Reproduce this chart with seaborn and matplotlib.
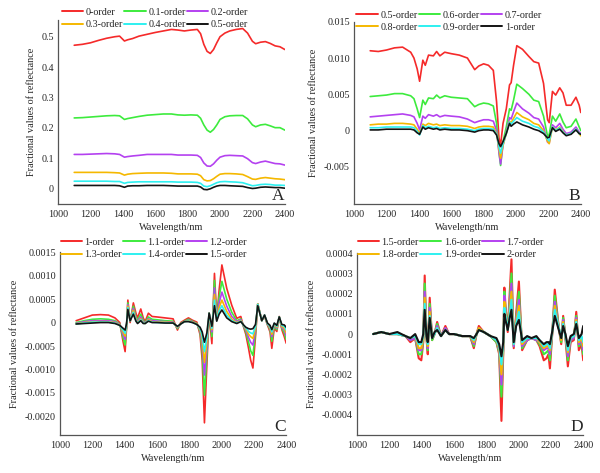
import numpy as np
import pandas as pd
import matplotlib
matplotlib.use("Agg")
import matplotlib.pyplot as plt
import seaborn as sns

# ---------------- data ----------------
colors = ["#F52A2A", "#3DEB3D", "#B441F0", "#F5B800", "#2EF0F0", "#141414"]

labelsA = ["0-order", "0.1-order", "0.2-order", "0.3-order", "0.4-order", "0.5-order"]
labelsB = ["0.5-order", "0.6-order", "0.7-order", "0.8-order", "0.9-order", "1-order"]
labelsC = ["1-order", "1.1-order", "1.2-order", "1.3-order", "1.4-order", "1.5-order"]
labelsD = ["1.5-order", "1.6-order", "1.7-order", "1.8-order", "1.9-order", "2-order"]

xticks = [1000, 1200, 1400, 1600, 1800, 2000, 2200, 2400]

# Panel A
wlA = [1100, 1150, 1200, 1250, 1300, 1350, 1380, 1410, 1430, 1460, 1500, 1550, 1600, 1650, 1700,
       1740, 1780, 1820, 1860, 1880, 1900, 1920, 1940, 1960, 1980, 2000, 2030, 2060, 2100, 2140,
       2170, 2200, 2220, 2250, 2280, 2310, 2340, 2370, 2400]
a00 = [0.472, 0.475, 0.480, 0.488, 0.495, 0.500, 0.502, 0.486, 0.490, 0.494, 0.502, 0.508, 0.514, 0.519, 0.524,
       0.522, 0.519, 0.522, 0.524, 0.510, 0.475, 0.452, 0.445, 0.458, 0.480, 0.500, 0.512, 0.519, 0.524, 0.527,
       0.512, 0.485, 0.477, 0.482, 0.484, 0.478, 0.470, 0.467, 0.458]
a01 = [0.233, 0.234, 0.236, 0.238, 0.240, 0.241, 0.240, 0.228, 0.231, 0.234, 0.238, 0.242, 0.244, 0.246, 0.246,
       0.243, 0.242, 0.243, 0.242, 0.232, 0.210, 0.193, 0.186, 0.195, 0.210, 0.228, 0.237, 0.240, 0.241, 0.241,
       0.230, 0.210, 0.204, 0.210, 0.212, 0.207, 0.201, 0.201, 0.193]
a02 = [0.113, 0.113, 0.114, 0.115, 0.116, 0.115, 0.113, 0.104, 0.106, 0.108, 0.110, 0.113, 0.113, 0.113, 0.113,
       0.111, 0.111, 0.111, 0.110, 0.103, 0.085, 0.075, 0.074, 0.082, 0.094, 0.104, 0.109, 0.110, 0.109, 0.108,
       0.099, 0.086, 0.083, 0.088, 0.091, 0.087, 0.083, 0.082, 0.078]
a03 = [0.054, 0.054, 0.054, 0.054, 0.054, 0.053, 0.052, 0.045, 0.048, 0.050, 0.051, 0.052, 0.052, 0.052, 0.051,
       0.049, 0.049, 0.049, 0.048, 0.043, 0.030, 0.026, 0.027, 0.033, 0.041, 0.048, 0.050, 0.050, 0.049, 0.047,
       0.040, 0.032, 0.031, 0.035, 0.037, 0.035, 0.033, 0.032, 0.030]
a04 = [0.025, 0.025, 0.025, 0.025, 0.025, 0.024, 0.024, 0.018, 0.021, 0.022, 0.023, 0.023, 0.023, 0.023, 0.023,
       0.022, 0.022, 0.022, 0.021, 0.018, 0.009, 0.007, 0.010, 0.015, 0.020, 0.023, 0.024, 0.023, 0.022, 0.020,
       0.015, 0.010, 0.011, 0.014, 0.015, 0.014, 0.012, 0.012, 0.011]
a05 = [0.011, 0.011, 0.011, 0.011, 0.011, 0.011, 0.010, 0.005, 0.009, 0.010, 0.010, 0.011, 0.011, 0.011, 0.010,
       0.009, 0.009, 0.009, 0.009, 0.006, -0.002, -0.003, 0.000, 0.005, 0.009, 0.011, 0.011, 0.010, 0.009, 0.008,
       0.004, 0.001, 0.002, 0.005, 0.006, 0.005, 0.004, 0.004, 0.002]
yticksA = [0, 0.1, 0.2, 0.3, 0.4, 0.5]
ylabA = ["0", "0.1", "0.2", "0.3", "0.4", "0.5"]

# Panel B
wlB = [1100, 1150, 1200, 1250, 1300, 1350, 1370, 1390, 1405, 1425, 1440, 1460, 1490, 1510, 1530,
       1560, 1600, 1650, 1700, 1745, 1770, 1800, 1830, 1860, 1880, 1895, 1905, 1920, 1940, 1960,
       1970, 1985, 2005, 2040, 2080, 2110, 2140, 2170, 2195, 2205, 2225, 2245, 2270, 2290, 2310,
       2340, 2370, 2390, 2400]
b05 = [0.0110, 0.0109, 0.0111, 0.0114, 0.0115, 0.0108, 0.0100, 0.0085, 0.0068, 0.0097, 0.0090, 0.0104, 0.0103, 0.0109, 0.0103,
       0.0108, 0.0106, 0.0104, 0.0100, 0.0084, 0.0089, 0.0092, 0.0090, 0.0083, 0.0040, -0.0010, -0.0020, 0.0010, 0.0030, 0.0063,
       0.0066, 0.0090, 0.0117, 0.0112, 0.0102, 0.0095, 0.0093, 0.0065, 0.0015, 0.0011, 0.0054, 0.0049, 0.0059, 0.0052, 0.0035,
       0.0035, 0.0046, 0.0035, 0.0025]
b06 = [0.0047, 0.0048, 0.0049, 0.0051, 0.0051, 0.0048, 0.0044, 0.0030, 0.0018, 0.0042, 0.0036, 0.0045, 0.0044, 0.0049, 0.0045,
       0.0048, 0.0046, 0.0045, 0.0044, 0.0033, 0.0036, 0.0038, 0.0037, 0.0034, 0.0010, -0.0030, -0.0048, -0.0015, 0.0005, 0.0030,
       0.0028, 0.0042, 0.0064, 0.0058, 0.0050, 0.0042, 0.0040, 0.0020, -0.0008, -0.0005, 0.0020, 0.0013, 0.0023, 0.0012, 0.0004,
       0.0006, 0.0016, 0.0005, 0.0000]
b07 = [0.0019, 0.0020, 0.0021, 0.0022, 0.0023, 0.0021, 0.0019, 0.0010, 0.0001, 0.0020, 0.0017, 0.0022, 0.0020, 0.0022, 0.0019,
       0.0021, 0.0020, 0.0019, 0.0016, 0.0011, 0.0013, 0.0015, 0.0015, 0.0013, 0.0000, -0.0030, -0.0046, -0.0020, -0.0002, 0.0018,
       0.0016, 0.0026, 0.0038, 0.0030, 0.0024, 0.0018, 0.0016, 0.0005, -0.0016, -0.0017, 0.0008, 0.0004, 0.0010, 0.0002, -0.0004,
       -0.0002, 0.0005, -0.0002, -0.0004]
b08 = [0.0008, 0.0009, 0.0009, 0.0010, 0.0010, 0.0009, 0.0008, 0.0002, -0.0004, 0.0009, 0.0007, 0.0010, 0.0008, 0.0009, 0.0007,
       0.0008, 0.0007, 0.0007, 0.0006, 0.0003, 0.0005, 0.0006, 0.0006, 0.0005, -0.0004, -0.0025, -0.0038, -0.0020, -0.0004, 0.0013,
       0.0011, 0.0017, 0.0025, 0.0019, 0.0015, 0.0010, 0.0008, 0.0000, -0.0015, -0.0018, 0.0005, 0.0001, 0.0005, -0.0001, -0.0006,
       -0.0004, 0.0002, -0.0004, -0.0007]
b09 = [0.0004, 0.0004, 0.0005, 0.0005, 0.0005, 0.0005, 0.0004, -0.0001, -0.0006, 0.0007, 0.0004, 0.0006, 0.0004, 0.0005, 0.0003,
       0.0004, 0.0003, 0.0003, 0.0002, 0.0000, 0.0002, 0.0003, 0.0003, 0.0002, -0.0005, -0.0022, -0.0031, -0.0018, -0.0004, 0.0012,
       0.0009, 0.0013, 0.0018, 0.0013, 0.0010, 0.0006, 0.0004, -0.0002, -0.0012, -0.0014, 0.0005, 0.0000, 0.0004, -0.0002, -0.0006,
       -0.0004, 0.0002, -0.0004, -0.0005]
b10 = [0.0001, 0.0001, 0.0002, 0.0002, 0.0002, 0.0002, 0.0001, -0.0003, -0.0005, 0.0005, 0.0002, 0.0004, 0.0002, 0.0003, 0.0001,
       0.0002, 0.0001, 0.0001, 0.0000, -0.0002, 0.0000, 0.0001, 0.0001, 0.0000, -0.0006, -0.0018, -0.0022, -0.0015, -0.0004, 0.0010,
       0.0006, 0.0009, 0.0012, 0.0008, 0.0005, 0.0002, 0.0000, -0.0004, -0.0010, -0.0009, 0.0004, -0.0001, 0.0002, -0.0003, -0.0007,
       -0.0005, 0.0001, -0.0004, -0.0005]
yticksB = [-0.005, 0, 0.005, 0.010, 0.015]
ylabB = ["-0.005", "0", "0.005", "0.010", "0.015"]

# Panel C
wlC = [1100, 1150, 1200, 1250, 1300, 1340, 1370, 1390, 1403, 1412, 1420, 1434, 1454, 1470, 1480,
       1500, 1515, 1527, 1547, 1570, 1600, 1650, 1700, 1727, 1747, 1770, 1795, 1820, 1847, 1867,
       1880, 1894, 1909, 1923, 1940, 1956, 1970, 1985, 2002, 2032, 2063, 2094, 2119, 2136, 2150,
       2167, 2180, 2194, 2210, 2224, 2249, 2266, 2284, 2300, 2311, 2326, 2342, 2357, 2373, 2388, 2400]
c10 = [0.00004, 0.00010, 0.00016, 0.00017, 0.00016, 0.00010, 0.00000, -0.00040, -0.00062, -0.00010,
       0.00048, 0.00000, 0.00042, 0.00020, 0.00010, 0.00029, 0.00010, 0.00002, 0.00020, 0.00013,
       0.00012, 0.00010, 0.00008, -0.00016, 0.00000, 0.00005, 0.00010, 0.00005, 0.00001, -0.00026,
       -0.00080, -0.00214, -0.00090, 0.00020, -0.00045, 0.00105, 0.00009, 0.00070, 0.00123, 0.00073,
       0.00037, 0.00009, 0.00013, -0.00009, -0.00025, -0.00055, -0.00080, -0.00097, -0.00030, 0.00039,
       0.00005, 0.00013, -0.00005, -0.00020, -0.00055, -0.00012, -0.00019, 0.00013, -0.00015, -0.00030,
       -0.00044]
c11 = [0.00000, 0.00004, 0.00007, 0.00008, 0.00007, 0.00004, -0.00003, -0.00032, -0.00048, -0.00010,
       0.00042, 0.00003, 0.00035, 0.00012, 0.00005, 0.00018, 0.00005, 0.00000, 0.00012, 0.00007,
       0.00006, 0.00004, 0.00003, -0.00013, -0.00002, 0.00003, 0.00007, 0.00003, -0.00002, -0.00020,
       -0.00060, -0.00155, -0.00070, 0.00020, -0.00030, 0.00090, 0.00008, 0.00055, 0.00088, 0.00050,
       0.00022, 0.00004, 0.00008, -0.00008, -0.00020, -0.00042, -0.00060, -0.00070, -0.00022, 0.00040,
       0.00004, 0.00015, -0.00004, -0.00015, -0.00040, -0.00008, -0.00015, 0.00012, -0.00012, -0.00022,
       -0.00036]
c12 = [-0.00002, 0.00002, 0.00004, 0.00004, 0.00004, 0.00002, -0.00004, -0.00025, -0.00036, -0.00008,
       0.00038, 0.00004, 0.00030, 0.00008, 0.00002, 0.00012, 0.00002, -0.00001, 0.00008, 0.00004,
       0.00003, 0.00002, 0.00001, -0.00011, -0.00003, 0.00002, 0.00005, 0.00002, -0.00003, -0.00016,
       -0.00045, -0.00112, -0.00055, 0.00020, -0.00020, 0.00074, 0.00006, 0.00042, 0.00065, 0.00035,
       0.00013, 0.00002, 0.00006, -0.00007, -0.00016, -0.00032, -0.00042, -0.00048, -0.00016, 0.00040,
       0.00004, 0.00016, -0.00003, -0.00012, -0.00030, -0.00005, -0.00012, 0.00012, -0.00010, -0.00016,
       -0.00028]
c13 = [-0.00003, 0.00000, 0.00002, 0.00002, 0.00002, 0.00000, -0.00005, -0.00020, -0.00029, -0.00006,
       0.00035, 0.00004, 0.00026, 0.00006, 0.00000, 0.00008, 0.00000, -0.00002, 0.00006, 0.00002,
       0.00001, 0.00001, 0.00000, -0.00010, -0.00003, 0.00002, 0.00004, 0.00001, -0.00003, -0.00014,
       -0.00035, -0.00085, -0.00042, 0.00020, -0.00015, 0.00060, 0.00005, 0.00032, 0.00048, 0.00024,
       0.00007, 0.00000, 0.00004, -0.00006, -0.00013, -0.00025, -0.00030, -0.00034, -0.00012, 0.00040,
       0.00004, 0.00016, -0.00002, -0.00010, -0.00025, -0.00003, -0.00010, 0.00012, -0.00008, -0.00012,
       -0.00022]
c14 = [-0.00003, -0.00001, 0.00001, 0.00001, 0.00001, -0.00001, -0.00006, -0.00016, -0.00023, -0.00004,
       0.00032, 0.00004, 0.00022, 0.00004, -0.00001, 0.00006, -0.00001, -0.00002, 0.00004, 0.00001,
       0.00000, 0.00000, -0.00001, -0.00009, -0.00003, 0.00002, 0.00003, 0.00000, -0.00004, -0.00012,
       -0.00028, -0.00062, -0.00032, 0.00020, -0.00012, 0.00048, 0.00004, 0.00025, 0.00036, 0.00016,
       0.00004, -0.00001, 0.00003, -0.00006, -0.00011, -0.00019, -0.00022, -0.00024, -0.00008, 0.00039,
       0.00004, 0.00016, -0.00002, -0.00008, -0.00020, -0.00002, -0.00008, 0.00012, -0.00006, -0.00008,
       -0.00016]
c15 = [-0.00003, -0.00002, -0.00001, 0.00000, 0.00000, -0.00002, -0.00006, -0.00012, -0.00016, -0.00002,
       0.00028, 0.00004, 0.00018, 0.00003, -0.00002, 0.00004, -0.00002, -0.00002, 0.00003, 0.00000,
       0.00000, -0.00001, -0.00001, -0.00008, -0.00003, 0.00002, 0.00002, 0.00000, -0.00004, -0.00010,
       -0.00020, -0.00042, -0.00022, 0.00020, -0.00008, 0.00036, 0.00003, 0.00018, 0.00027, 0.00010,
       0.00002, -0.00002, 0.00002, -0.00005, -0.00010, -0.00013, -0.00014, -0.00013, -0.00004, 0.00036,
       0.00004, 0.00016, -0.00001, -0.00006, -0.00015, -0.00001, -0.00006, 0.00012, -0.00004, -0.00005,
       -0.00010]
yticksC = [-0.0020, -0.0015, -0.0010, -0.0005, 0, 0.0005, 0.0010, 0.0015]
ylabC = ["-0.0020", "-0.0015", "-0.0010", "-0.0005", "0", "0.0005", "0.0010", "0.0015"]

# Panel D
wlD = [1100, 1150, 1200, 1250, 1300, 1330, 1360, 1382, 1398, 1410, 1419, 1430, 1438, 1450, 1465,
       1480, 1496, 1520, 1547, 1570, 1600, 1650, 1700, 1723, 1740, 1754, 1785, 1826, 1863, 1880,
       1894, 1905, 1912, 1919, 1933, 1945, 1956, 1970, 1985, 2002, 2022, 2053, 2080, 2110, 2130,
       2156, 2173, 2185, 2194, 2210, 2224, 2249, 2264, 2276, 2290, 2305, 2322, 2342, 2357, 2373,
       2390, 2400]
d15 = [0.00000, 0.00001, 0.00000, 0.00000, -0.00001, -0.00004, -0.00002, -0.00012, -0.00013, -0.00004,
       0.00029, -0.00002, -0.00010, 0.00018, -0.00003, 0.00000, 0.00006, -0.00001, 0.00004, 0.00000,
       0.00000, -0.00001, -0.00001, -0.00007, 0.00000, 0.00004, 0.00001, -0.00001, -0.00004, -0.00010,
       -0.00043, -0.00010, 0.00023, 0.00014, 0.00001, 0.00020, 0.00037, -0.00007, 0.00010, 0.00026,
       -0.00008, -0.00003, -0.00002, -0.00003, -0.00006, -0.00013, -0.00012, -0.00010, -0.00017, 0.00002,
       0.00022, 0.00003, -0.00005, 0.00009, -0.00002, -0.00016, -0.00004, -0.00003, 0.00011, -0.00008,
       -0.00005, -0.00013]
d16 = [0.00000, 0.00001, 0.00000, 0.00000, -0.00001, -0.00003, -0.00002, -0.00010, -0.00010, -0.00003,
       0.00025, -0.00002, -0.00008, 0.00015, -0.00003, 0.00000, 0.00005, -0.00001, 0.00003, 0.00000,
       0.00000, -0.00001, -0.00001, -0.00006, 0.00000, 0.00003, 0.00001, -0.00001, -0.00004, -0.00009,
       -0.00031, -0.00008, 0.00021, 0.00012, 0.00002, 0.00016, 0.00030, -0.00006, 0.00008, 0.00021,
       -0.00007, -0.00003, -0.00002, -0.00003, -0.00005, -0.00010, -0.00009, -0.00008, -0.00013, 0.00002,
       0.00019, 0.00003, -0.00004, 0.00008, -0.00001, -0.00013, -0.00003, -0.00002, 0.00009, -0.00006,
       -0.00004, -0.00010]
d17 = [0.00000, 0.00001, 0.00000, 0.00000, -0.00001, -0.00003, -0.00002, -0.00008, -0.00008, -0.00002,
       0.00021, -0.00001, -0.00007, 0.00013, -0.00002, 0.00000, 0.00004, -0.00001, 0.00003, 0.00000,
       0.00000, -0.00001, -0.00001, -0.00005, 0.00000, 0.00003, 0.00001, -0.00001, -0.00003, -0.00008,
       -0.00025, -0.00007, 0.00019, 0.00011, 0.00002, 0.00014, 0.00025, -0.00006, 0.00007, 0.00017,
       -0.00006, -0.00003, -0.00002, -0.00003, -0.00004, -0.00008, -0.00007, -0.00007, -0.00010, 0.00002,
       0.00016, 0.00003, -0.00003, 0.00007, -0.00001, -0.00011, -0.00003, -0.00002, 0.00008, -0.00005,
       -0.00003, -0.00008]
d18 = [0.00000, 0.00001, 0.00000, 0.00000, -0.00001, -0.00002, -0.00001, -0.00007, -0.00007, -0.00002,
       0.00018, -0.00001, -0.00006, 0.00011, -0.00002, 0.00000, 0.00003, -0.00001, 0.00002, 0.00000,
       0.00000, -0.00001, -0.00001, -0.00004, 0.00000, 0.00003, 0.00001, -0.00001, -0.00003, -0.00007,
       -0.00020, -0.00006, 0.00016, 0.00010, 0.00002, 0.00012, 0.00021, -0.00005, 0.00006, 0.00014,
       -0.00005, -0.00002, -0.00002, -0.00002, -0.00004, -0.00007, -0.00006, -0.00006, -0.00008, 0.00002,
       0.00014, 0.00003, -0.00003, 0.00006, -0.00001, -0.00009, -0.00002, -0.00001, 0.00007, -0.00004,
       -0.00002, -0.00006]
d19 = [0.00000, 0.00001, 0.00000, 0.00000, -0.00001, -0.00002, -0.00001, -0.00005, -0.00005, -0.00001,
       0.00015, -0.00001, -0.00005, 0.00009, -0.00002, 0.00000, 0.00003, -0.00001, 0.00002, 0.00000,
       0.00000, -0.00001, -0.00001, -0.00003, 0.00000, 0.00002, 0.00001, -0.00001, -0.00003, -0.00006,
       -0.00015, -0.00005, 0.00013, 0.00009, 0.00002, 0.00010, 0.00017, -0.00005, 0.00005, 0.00011,
       -0.00004, -0.00002, -0.00002, -0.00002, -0.00003, -0.00006, -0.00005, -0.00005, -0.00007, 0.00002,
       0.00012, 0.00003, -0.00002, 0.00005, -0.00001, -0.00008, -0.00002, -0.00001, 0.00006, -0.00003,
       -0.00001, -0.00004]
d20 = [0.00000, 0.00001, 0.00000, 0.00001, -0.00001, -0.00002, 0.00000, -0.00004, -0.00004, 0.00000,
       0.00012, -0.00001, -0.00004, 0.00008, -0.00002, 0.00001, 0.00002, -0.00001, 0.00002, 0.00000,
       0.00000, -0.00001, -0.00001, -0.00002, 0.00000, 0.00002, 0.00001, -0.00001, -0.00002, -0.00005,
       -0.00011, -0.00004, 0.00010, 0.00007, 0.00002, 0.00008, 0.00012, -0.00004, 0.00004, 0.00007,
       -0.00003, -0.00001, -0.00002, -0.00001, -0.00003, -0.00005, -0.00004, -0.00004, -0.00005, 0.00002,
       0.00009, 0.00002, -0.00002, 0.00004, 0.00000, -0.00006, -0.00001, 0.00000, 0.00005, -0.00002,
       0.00000, 0.00004]
yticksD = [-0.0004, -0.0003, -0.0002, -0.0001, 0, 0.0001, 0.0002, 0.0003, 0.0004]
ylabD = ["-0.0004", "-0.0003", "-0.0002", "-0.0001", "0", "0.0001", "0.0002", "0.0003", "0.0004"]

# ---------------- style ----------------
sns.set_theme(style="white")
FONT = ["Liberation Serif", "DejaVu Serif"]
plt.rcParams["font.family"] = FONT
FS = 7.3

fig = plt.figure(figsize=(6.0, 4.73), dpi=100)

panels = [
    dict(rect=[0.0967, 0.5687, 0.378, 0.389], wl=wlA, series=[a00, a01, a02, a03, a04, a05], labels=labelsA,
         ylim=(-0.05, 0.555), yt=yticksA, yl=ylabA, tag="A", leg=(0.428, 1.066), lw=1.2),
    dict(rect=[0.590, 0.5687, 0.378, 0.3854], wl=wlB, series=[b05, b06, b07, b08, b09, b10], labels=labelsB,
         ylim=(-0.0101, 0.015), yt=yticksB, yl=ylabB, tag="B", leg=(0.42, 1.06), lw=1.2),
    dict(rect=[0.100, 0.0803, 0.377, 0.3863], wl=wlC, series=[c10, c11, c12, c13, c14, c15], labels=labelsC,
         ylim=(-0.0024, 0.0015), yt=yticksC, yl=ylabC, tag="C", leg=(0.415, 1.079), lw=1.2),
    dict(rect=[0.595, 0.0803, 0.377, 0.3842], wl=wlD, series=[d15, d16, d17, d18, d19, d20], labels=labelsD,
         ylim=(-0.0005, 0.0004), yt=yticksD, yl=ylabD, tag="D", leg=(0.414, 1.085), lw=1.5),
]

for p in panels:
    ax = fig.add_axes(p["rect"])
    frames = []
    for lab, vals in zip(p["labels"], p["series"]):
        frames.append(pd.DataFrame({"wl": p["wl"], "val": vals, "order": lab}))
    df = pd.concat(frames, ignore_index=True)
    sns.lineplot(data=df, x="wl", y="val", hue="order", hue_order=p["labels"],
                 palette=colors, linewidth=p["lw"], ax=ax, legend=True, sort=False)
    handles, labs = ax.get_legend_handles_labels()
    ax.get_legend().remove()
    order = [0, 3, 1, 4, 2, 5]
    leg = ax.legend([handles[i] for i in order], [labs[i] for i in order], ncol=3,
                    loc="upper center", bbox_to_anchor=p["leg"], frameon=False,
                    prop={"family": FONT, "size": FS}, handlelength=2.1, columnspacing=0.12,
                    handletextpad=0.25, labelspacing=0.3, borderpad=0, borderaxespad=0)
    for h in leg.get_lines():
        h.set_linewidth(1.4)

    ax.set_xlim(1000, 2400)
    ax.set_ylim(*p["ylim"])
    ax.set_xticks(xticks)
    ax.set_xticklabels([str(t) for t in xticks], fontsize=FS, family=FONT)
    ax.set_yticks(p["yt"])
    ax.set_yticklabels(p["yl"], fontsize=FS, family=FONT)
    ax.set_xlabel("Wavelength/nm", fontsize=FS, family=FONT, labelpad=3)
    ax.set_ylabel("Fractional values of reflectance", fontsize=FS, family=FONT, labelpad=4)
    for s in ["top", "right"]:
        ax.spines[s].set_visible(False)
    for s in ["left", "bottom"]:
        ax.spines[s].set_color("#555555")
        ax.spines[s].set_linewidth(0.9)
    ax.tick_params(axis="x", direction="out", length=2.5, width=0.8, color="#555555", pad=2)
    ax.tick_params(axis="y", direction="out", length=0, pad=3)
    ax.text(0.998, 0.0, p["tag"], transform=ax.transAxes, ha="right", va="bottom",
            fontsize=12.5, family=FONT)
    ax.set_facecolor("white")

fig.savefig("out.png", dpi=100, facecolor="white")
